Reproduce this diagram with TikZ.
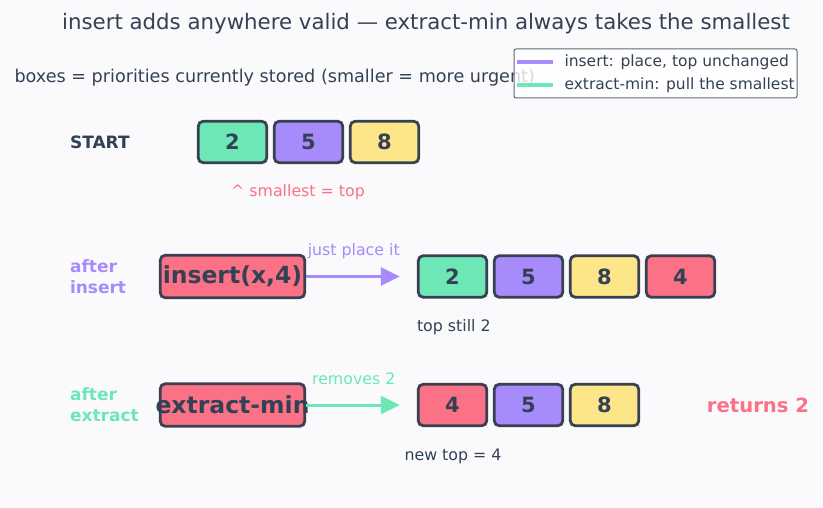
\documentclass[tikz,border=0pt]{standalone}
\usepackage{fontspec}
\setmainfont{DejaVu Sans}
\usetikzlibrary{arrows.meta}

\definecolor{paper}{HTML}{FAFAFD}
\definecolor{ink}{HTML}{334155}
\definecolor{edge}{HTML}{374151}
\definecolor{mint}{HTML}{6EE7B7}
\definecolor{lilac}{HTML}{A78BFA}
\definecolor{sun}{HTML}{FDE68A}
\definecolor{rose}{HTML}{FB7185}

\newcommand{\fs}[1]{\fontsize{#1}{#1}\selectfont}

\begin{document}
\begin{tikzpicture}[x=1pt, y=-1pt,
  key/.style={draw=edge, line width=2.8pt, rounded corners=5pt, inner sep=0pt,
    minimum width=68.5pt, minimum height=41.5pt, text=ink, font=\fs{21}\bfseries},
  op/.style={key, fill=rose, inner xsep=-6pt, minimum width=144.5pt, minimum height=42.5pt, font=\fs{23.5}\bfseries},
  note/.style={font=\fs{15.8}, text=ink},
  tag/.style={pos=0.43, above=12pt, note, text height=12pt, text depth=4pt},
  side/.style={anchor=west, align=left, font=\fontsize{17}{21}\selectfont\bfseries},
  push/.style={line width=3pt, -{Triangle[length=19pt,width=18pt]}, shorten >=17pt}]

\useasboundingbox[fill=paper] (0,0) rectangle (823,508);

% Titel und Legende
\node[font=\fs{21.3}, text=ink] (title) at (426,24)
  {insert adds anywhere valid — extract-min always takes the smallest};
\node[note, anchor=west, font=\fs{17.6}] (sub) at (11,78)
  {boxes = priorities currently stored (smaller = more urgent)};

\node[draw=edge!80, line width=1pt, rounded corners=2pt, fill=white, fill opacity=0.8,
  minimum width=283pt, minimum height=49pt] (legend) at (655.5,73.5) {};
\draw[lilac, line width=4.5pt] (517,62) -- (553,62);
\draw[mint, line width=4.5pt] (517,85) -- (553,85);
\node[note, anchor=west, font=\fs{15.5}] (leg1) at (561,62) {insert: place, top unchanged};
\node[note, anchor=west, font=\fs{15.5}] (leg2) at (561,85) {extract-min: pull the smallest};

% Start
\node[side, text=ink] (start) at (66.5,142) {START};
\foreach \v/\c [count=\i] in {2/mint, 5/lilac, 8/sun}
  \node[key, fill=\c] (a\i) at (156.5+76*\i,142) {\v};
\node[note, text=rose] (hint) at (298,192) {\textasciicircum{} smallest = top};

% nach insert
\node[side, text=lilac] (lblins) at (66.5,276.5) {after\\insert};
\node[op] (ins) at (232.5,276.5) {insert(x,4)};
\foreach \v/\c [count=\i] in {2/mint, 5/lilac, 8/sun, 4/rose}
  \node[key, fill=\c] (b\i) at (376.5+76*\i,276.5) {\v};
\draw[push, lilac] (ins) -- (b1) node[tag, text=lilac] (lblplace) {just place it};
\node[note, anchor=west] (still) at (413.5,327) {top still 2};

% nach extract-min
\node[side, text=mint] (lblext) at (66.5,405) {after\\extract};
\node[op] (ext) at (232.5,405) {extract-min};
\foreach \v/\c [count=\i] in {4/rose, 5/lilac, 8/sun}
  \node[key, fill=\c] (c\i) at (376.5+76*\i,405) {\v};
\draw[push, mint] (ext) -- (c1) node[tag, text=mint] (lblrem) {removes 2};
\node[note] (newtop) at (453,456) {new top = 4};
\node[font=\fs{19.6}\bfseries, text=rose] (ret) at (758,405) {returns 2};

\end{tikzpicture}
\end{document}
